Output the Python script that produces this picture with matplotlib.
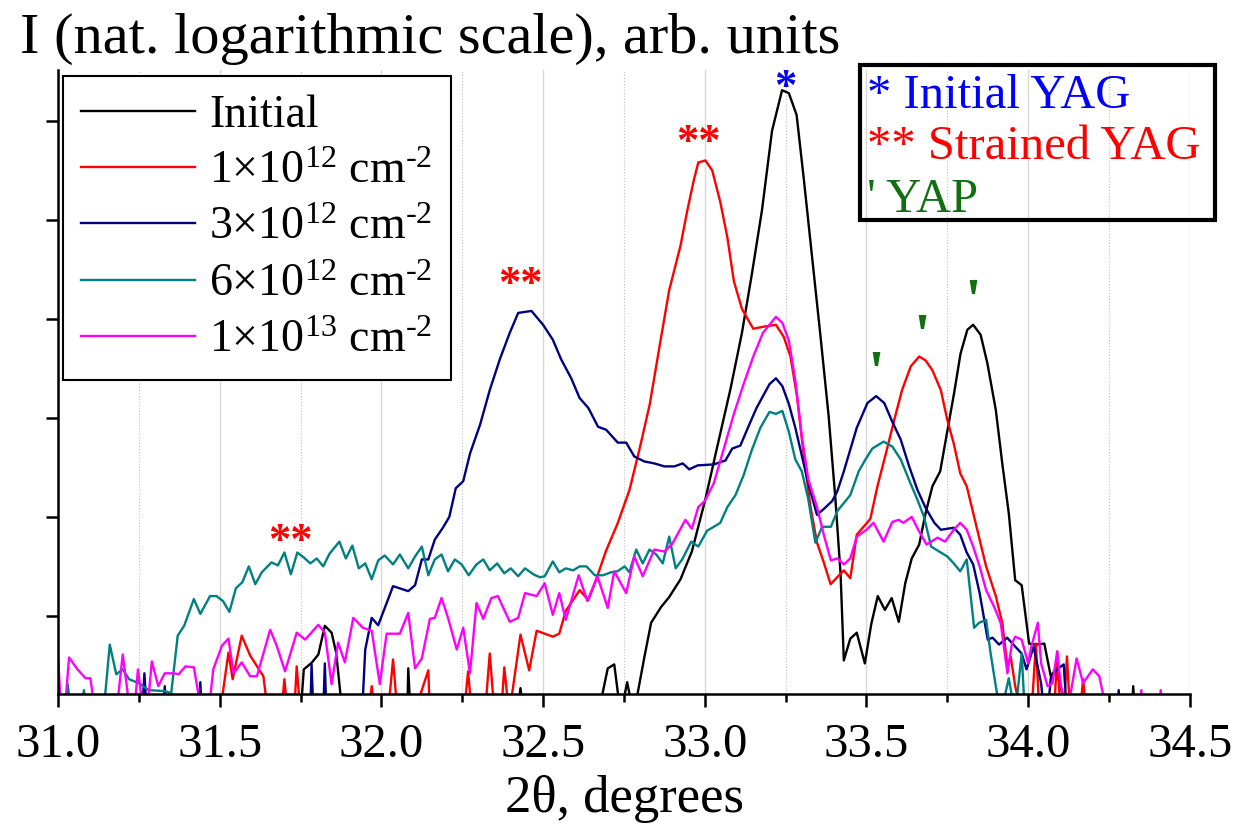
import numpy as np
import matplotlib
matplotlib.use('Agg')
import matplotlib.pyplot as plt
from matplotlib.patches import Rectangle

plt.rcParams['font.family'] = ['Liberation Serif', 'DejaVu Serif']
plt.rcParams['mathtext.fontset'] = 'custom'
plt.rcParams['mathtext.rm'] = 'Liberation Serif'
plt.rcParams['mathtext.it'] = 'Liberation Serif:italic'

# data (2theta in degrees, ln I in tick units, 0 = no counts)
init_x = [31.0, 31.75, 31.76, 31.784, 31.805, 31.825, 31.846, 31.86, 31.88, 32.08, 32.083, 32.09,
          32.42, 32.43, 32.44, 32.67, 32.70, 32.72, 32.74, 32.76, 32.78, 32.813, 32.834, 32.865,
          32.89, 32.925, 32.96, 33.002, 33.038, 33.08, 33.115, 33.146, 33.177, 33.208, 33.239,
          33.26, 33.284, 33.306, 33.332, 33.358, 33.383, 33.404, 33.42, 33.43, 33.45, 33.47,
          33.495, 33.515, 33.535, 33.557, 33.578, 33.60, 33.62, 33.64, 33.663, 33.683, 33.704,
          33.728, 33.747, 33.771, 33.791, 33.812, 33.83, 33.853, 33.874, 33.90, 33.92, 33.94,
          33.96, 33.98, 34.003, 34.024, 34.05, 34.07, 34.085, 34.106, 34.12, 34.32, 34.325,
          34.33, 34.5]
init_y = [0, 0, 0.46, 0.525, 0.61, 0.90, 0.83, 0.63, 0, 0, 0.47, 0,
          0, 0.27, 0, 0, 0.47, 0.51, 0, 0.33, 0, 0.58, 0.93, 1.09,
          1.19, 1.37, 1.65, 2.18, 2.70, 3.30, 3.86, 4.46, 5.10, 5.90, 6.31,
          6.28, 6.06, 5.42, 4.62, 3.82, 3.02, 2.18, 1.42, 0.55, 0.77, 0.83,
          0.52, 0.92, 1.20, 1.06, 1.18, 0.94, 1.33, 1.58, 1.72, 2.04, 2.31,
          2.46, 2.81, 3.25, 3.65, 3.89, 3.94, 3.84, 3.55, 3.08, 2.54, 2.04,
          1.36, 1.31, 0.72, 0.71, 0.72, 0.39, 0.46, 0.22, 0, 0, 0.29,
          0, 0]

d1_x = [31.0, 31.50, 31.527, 31.54, 31.568, 31.594, 31.635, 31.65, 31.69, 31.70, 31.71, 31.73,
        31.738, 31.75, 31.96, 31.97, 31.98, 32.02, 32.036, 32.05, 32.10, 32.145, 32.15, 32.255,
        32.268, 32.28, 32.32, 32.335, 32.35, 32.37, 32.38, 32.395, 32.43, 32.457, 32.48, 32.53,
        32.55, 32.57, 32.613, 32.64, 32.66, 32.695, 32.73, 32.767, 32.80, 32.83, 32.86, 32.89,
        32.925, 32.945, 32.966, 32.98, 33.002, 33.023, 33.048, 33.07, 33.09, 33.115, 33.15,
        33.18, 33.22, 33.244, 33.265, 33.285, 33.306, 33.327, 33.347, 33.368, 33.389, 33.43,
        33.45, 33.47, 33.512, 33.534, 33.56, 33.586, 33.61, 33.637, 33.663, 33.683, 33.704,
        33.73, 33.75, 33.77, 33.79, 33.81, 33.83, 33.85, 33.87, 33.90, 33.92, 33.936, 33.946,
        33.96, 33.98, 34.01, 34.024, 34.035, 34.08, 34.09, 34.10, 34.11, 34.12, 34.13, 34.16,
        34.17, 34.18, 34.5]
d1_y = [0, 0, 0.63, 0.36, 0.80, 0.60, 0.39, 0, 0, 0.36, 0, 0,
        0.49, 0, 0, 0.29, 0, 0, 0.56, 0, 0, 0.45, 0, 0,
        0.44, 0, 0, 0.62, 0, 0, 0.48, 0, 0.81, 0.45, 0.85, 0.79,
        0.82, 1.05, 1.26, 1.16, 1.33, 1.66, 1.93, 2.27, 2.71, 3.14, 3.72, 4.29,
        4.74, 5.08, 5.40, 5.58, 5.60, 5.50, 5.18, 4.82, 4.38, 4.10, 3.90,
        3.92, 3.94, 3.82, 3.62, 3.22, 2.62, 2.10, 1.74, 1.54, 1.32, 1.46,
        1.38, 1.82, 1.98, 2.31, 2.64, 2.98, 3.28, 3.52, 3.62, 3.58, 3.48,
        3.28, 2.98, 2.74, 2.44, 2.31, 2.04, 1.77, 1.50, 1.20, 0.93, 0.49, 0.59,
        0.29, 0, 0, 0.72, 0, 0, 0.64, 0, 0, 0.59, 0, 0,
        0.36, 0, 0]

d3_x = [31.0, 31.26, 31.267, 31.275, 31.325, 31.33, 31.335, 31.435, 31.44, 31.445, 31.78, 31.784,
        31.79, 31.82, 31.825, 31.83, 31.94, 31.95, 31.97, 31.99, 32.036, 32.083, 32.104, 32.125,
        32.145, 32.165, 32.19, 32.21, 32.23, 32.253, 32.274, 32.305, 32.335, 32.366, 32.397,
        32.423, 32.464, 32.50, 32.53, 32.556, 32.587, 32.613, 32.64, 32.67, 32.695, 32.731,
        32.757, 32.782, 32.813, 32.844, 32.875, 32.906, 32.932, 32.952, 32.978, 33.028, 33.064,
        33.085, 33.11, 33.136, 33.16, 33.18, 33.20, 33.22, 33.24, 33.26, 33.28, 33.30, 33.32,
        33.347, 33.368, 33.394, 33.41, 33.43, 33.45, 33.47, 33.503, 33.53, 33.555, 33.58,
        33.606, 33.632, 33.658, 33.683, 33.71, 33.73, 33.77, 33.79, 33.81, 33.83, 33.85,
        33.875, 33.89, 33.91, 33.935, 33.96, 33.98, 33.995, 34.017, 34.04, 34.05, 34.06,
        34.07, 34.09, 34.11, 34.12, 34.275, 34.28, 34.285, 34.5]
d3_y = [0, 0, 0.42, 0, 0, 0.29, 0, 0, 0.33, 0, 0, 0.51,
        0, 0, 0.52, 0, 0, 0.66, 0.98, 0.905, 1.30, 1.25, 1.31, 1.57,
        1.57, 1.77, 1.89, 2.00, 2.29, 2.36, 2.64, 2.93, 3.28, 3.59, 3.86,
        4.06, 4.08, 3.94, 3.79, 3.59, 3.40, 3.20, 3.10, 2.91, 2.88, 2.75,
        2.75, 2.61, 2.56, 2.54, 2.51, 2.51, 2.54, 2.48, 2.52, 2.53, 2.57,
        2.69, 2.72, 2.92, 3.10, 3.22, 3.34, 3.40, 3.32, 3.14, 2.90, 2.62, 2.34,
        2.02, 2.08, 2.16, 2.26, 2.46, 2.68, 2.90, 3.15, 3.22, 3.15, 2.96,
        2.78, 2.51, 2.27, 2.09, 1.94, 1.87, 1.89, 1.82, 1.64, 1.52, 1.23,
        0.76, 0.78, 0.71, 0.78, 0.69, 0.62, 0.46, 0.69, 0.32, 0, 0,
        0.37, 0.46, 0.51, 0, 0, 0.25, 0, 0]

d6_x = [31.0, 31.025, 31.03, 31.04, 31.07, 31.08, 31.09, 31.14, 31.16, 31.18, 31.20, 31.22,
        31.25, 31.28, 31.33, 31.35, 31.37, 31.39, 31.42, 31.44, 31.47, 31.49, 31.51, 31.53,
        31.55, 31.57, 31.59, 31.61, 31.63, 31.66, 31.68, 31.70, 31.72, 31.74, 31.76, 31.78,
        31.80, 31.82, 31.84, 31.87, 31.89, 31.91, 31.93, 31.95, 31.97, 31.99, 32.01, 32.036,
        32.057, 32.083, 32.104, 32.125, 32.145, 32.165, 32.186, 32.206, 32.227, 32.248, 32.27,
        32.294, 32.315, 32.335, 32.358, 32.38, 32.40, 32.423, 32.444, 32.47, 32.49, 32.505,
        32.53, 32.55, 32.57, 32.593, 32.613, 32.634, 32.66, 32.685, 32.71, 32.73, 32.752,
        32.767, 32.788, 32.808, 32.829, 32.85, 32.87, 32.89, 32.91, 32.93, 32.958, 32.98,
        33.007, 33.028, 33.048, 33.07, 33.095, 33.12, 33.146, 33.172, 33.20, 33.22, 33.24,
        33.26, 33.28, 33.30, 33.32, 33.342, 33.363, 33.39, 33.41, 33.43, 33.45, 33.476,
        33.497, 33.518, 33.553, 33.58, 33.606, 33.632, 33.658, 33.678, 33.70, 33.725, 33.75,
        33.77, 33.79, 33.81, 33.833, 33.848, 33.87, 33.884, 33.90, 33.915, 33.94, 33.96,
        33.98, 33.99, 34.5]
d6_y = [0, 0, 0.31, 0, 0, 0.25, 0, 0, 0.71, 0.41, 0.46, 0.36,
        0.32, 0.25, 0.24, 0.22, 0.80, 0.90, 1.17, 1.02, 1.20, 1.20, 1.15, 1.04,
        1.28, 1.34, 1.50, 1.32, 1.44, 1.54, 1.51, 1.64, 1.42, 1.64, 1.59, 1.53,
        1.58, 1.50, 1.63, 1.75, 1.58, 1.71, 1.48, 1.53, 1.37, 1.56, 1.61, 1.52,
        1.62, 1.48, 1.60, 1.70, 1.41, 1.57, 1.62, 1.45, 1.57, 1.52, 1.41,
        1.52, 1.57, 1.46, 1.53, 1.43, 1.48, 1.40, 1.48, 1.42, 1.39, 1.40,
        1.55, 1.44, 1.48, 1.46, 1.50, 1.50, 1.41, 1.41, 1.44, 1.45, 1.50,
        1.44, 1.67, 1.53, 1.67, 1.62, 1.53, 1.80, 1.48, 1.57, 1.75, 1.70,
        1.86, 1.90, 1.94, 2.10, 2.22, 2.42, 2.68, 2.90, 3.06, 3.04, 3.07,
        2.86, 2.58, 2.46, 2.18, 1.74, 1.90, 1.90, 2.06, 2.14, 2.22, 2.46,
        2.58, 2.69, 2.76, 2.71, 2.58, 2.37, 2.17, 2.00, 1.70, 1.65, 1.60,
        1.53, 1.45, 1.57, 0.88, 0.93, 0.96, 0.62, 0.29, 0, 0.37, 0,
        0.62, 0, 0]

d13_x = [31.0, 31.01, 31.02, 31.034, 31.06, 31.085, 31.10, 31.116, 31.18, 31.20, 31.224, 31.235,
         31.247, 31.265, 31.275, 31.29, 31.31, 31.33, 31.358, 31.373, 31.394, 31.42, 31.445,
         31.465, 31.48, 31.507, 31.527, 31.543, 31.568, 31.594, 31.615, 31.656, 31.676, 31.702,
         31.738, 31.764, 31.805, 31.825, 31.846, 31.866, 31.887, 31.913, 31.943, 31.97, 31.995,
         32.016, 32.057, 32.083, 32.104, 32.125, 32.15, 32.165, 32.186, 32.206, 32.233, 32.253,
         32.274, 32.294, 32.315, 32.34, 32.36, 32.397, 32.423, 32.444, 32.48, 32.505, 32.53,
         32.55, 32.57, 32.61, 32.637, 32.668, 32.70, 32.72, 32.757, 32.782, 32.808, 32.844,
         32.875, 32.90, 32.94, 32.96, 32.98, 33.0, 33.028, 33.06, 33.09, 33.12, 33.15, 33.18,
         33.22, 33.24, 33.26, 33.28, 33.30, 33.32, 33.347, 33.368, 33.39, 33.41, 33.43, 33.45,
         33.47, 33.50, 33.522, 33.553, 33.58, 33.60, 33.614, 33.64, 33.66, 33.686, 33.72,
         33.743, 33.77, 33.79, 33.81, 33.83, 33.85, 33.87, 33.895, 33.915, 33.925, 33.936,
         33.95, 33.96, 33.98, 34.0, 34.01, 34.03, 34.04, 34.06, 34.075, 34.09, 34.10, 34.12,
         34.15, 34.17, 34.20, 34.22, 34.245, 34.345, 34.35, 34.355, 34.405, 34.41, 34.415, 34.5]
d13_y = [0.59, 0, 0, 0.58, 0.46, 0.37, 0.37, 0, 0, 0.61, 0, 0,
         0.46, 0, 0, 0.54, 0.29, 0.42, 0.42, 0.41, 0.49, 0.48, 0,
         0, 0.46, 0.70, 0.77, 0.42, 0.53, 0.39, 0.39, 0.86, 0.70, 0.44,
         0.83, 0.76, 0.91, 0.83, 0.31, 0.73, 0.53, 0.98, 0.88, 0.85, 0.31,
         0.82, 0.82, 1.03, 0.47, 0.57, 0.97, 0.98, 1.18, 0.98, 0.66, 0.88,
         0.42, 1.13, 0.97, 1.18, 1.20, 0.94, 0.98, 1.23, 1.20, 1.33, 1.01,
         1.23, 0.96, 1.41, 1.15, 1.40, 1.08, 1.45, 1.23, 1.60, 1.40, 1.67,
         1.65, 1.73, 1.97, 1.88, 2.10, 2.16, 2.34, 2.70, 3.04, 3.34, 3.62, 3.86,
         4.02, 3.96, 3.78, 3.38, 2.82, 2.38, 2.10, 1.82, 1.56, 1.58, 1.52, 1.58,
         1.80, 1.87, 1.94, 1.75, 1.95, 1.97, 1.94, 2.00, 1.87, 1.72, 1.79,
         1.75, 1.87, 1.94, 1.87, 1.70, 1.50, 1.26, 1.09, 0.93, 0.69, 0.42,
         0.72, 0.79, 0.76, 0.52, 0.69, 0.93, 0.52, 0.29, 0.32, 0.64, 0.32, 0,
         0.57, 0.32, 0.46, 0.39, 0, 0, 0.25, 0, 0, 0.25, 0, 0]

series = [(init_x, init_y, 'Initial', '#000000'),
          (d1_x, d1_y, r'1$\times$10$^{12}$ cm$^{\text{-2}}$', '#ff0000'),
          (d3_x, d3_y, r'3$\times$10$^{12}$ cm$^{\text{-2}}$', '#000080'),
          (d6_x, d6_y, r'6$\times$10$^{12}$ cm$^{\text{-2}}$', '#008080'),
          (d13_x, d13_y, r'1$\times$10$^{13}$ cm$^{\text{-2}}$', '#ff00ff')]

# peak marks
yag_x, yag_y = [33.25], [6.33]
strained_x = [31.72, 32.43, 32.98]
strained_y = [1.75, 4.34, 5.78]
yap_x = [33.53, 33.67, 33.83]
yap_y = [3.41, 3.79, 4.14]

fig = plt.figure(figsize=(12.51, 8.32), dpi=100)
ax = fig.add_axes([0.0464, 0.166, 0.9047, 0.750])

for xs, ys, lab, col in series:
    ax.plot(xs, ys, color=col, lw=1.7, label=lab)

ax.set_xlim(31.0, 34.5)
ax.set_ylim(0.212, 6.515)
ax.set_xticks(np.arange(31.0, 34.51, 0.5))
ax.set_xticks(np.arange(31.25, 34.5, 0.5), minor=True)
ax.set_xticklabels(['%.1f' % v for v in np.arange(31.0, 34.51, 0.5)], fontsize=35)
ax.set_yticks([1, 2, 3, 4, 5, 6])
ax.set_yticklabels([])
ax.grid(True, axis='x', which='major', color='#d8d8d8', lw=1.0)
ax.grid(True, axis='x', which='minor', color='#c0c0c0', lw=0.8, ls=':')
ax.set_axisbelow(True)
ax.tick_params(axis='x', which='major', direction='out', length=9, width=1.8, pad=12)
ax.tick_params(axis='x', which='minor', direction='out', length=6, width=1.8)
ax.tick_params(axis='y', direction='out', length=9, width=1.8)
for s in ['top', 'right']:
    ax.spines[s].set_visible(False)
for s in ['left', 'bottom']:
    ax.spines[s].set_linewidth(1.8)

leg = ax.legend(loc='upper left', bbox_to_anchor=(0.004, 0.99), fontsize=33,
                frameon=True, fancybox=False, edgecolor='black', framealpha=1,
                handlelength=2.5, handletextpad=0.3, labelspacing=0.3,
                borderpad=0.4, borderaxespad=0)
leg.get_frame().set_linewidth(1.5)

# marks above the peaks
for x, y in zip(yag_x, yag_y):
    ax.text(x, y, '*', color='#0000ff', fontsize=32, fontweight='bold', ha='center', va='center')
for x, y in zip(strained_x, strained_y):
    ax.text(x, y, '**', color='#ff0000', fontsize=32, fontweight='bold', ha='center', va='center')
for x, y in zip(yap_x, yap_y):
    ax.text(x, y, "'", color='#107010', fontsize=44, fontweight='bold', ha='center', va='center')

# title and x label
fig.text(0.016, 0.936, 'I (nat. logarithmic scale), arb. units', fontsize=42, va='baseline')
fig.text(0.4996, 0.024, r'2θ, degrees', fontsize=38, ha='center', va='baseline')

# phase key box
fig.patches.append(Rectangle((0.6875, 0.7356), 0.2838, 0.1863, transform=fig.transFigure,
                             fill=False, edgecolor='black', lw=3))
fig.text(0.693, 0.870, '* Initial YAG', color='#0000ff', fontsize=35, va='baseline')
fig.text(0.693, 0.809, '** Strained YAG', color='#ff0000', fontsize=35, va='baseline')
fig.text(0.693, 0.745, "' YAP", color='#107010', fontsize=35, va='baseline')

fig.savefig('out.png', dpi=100)
